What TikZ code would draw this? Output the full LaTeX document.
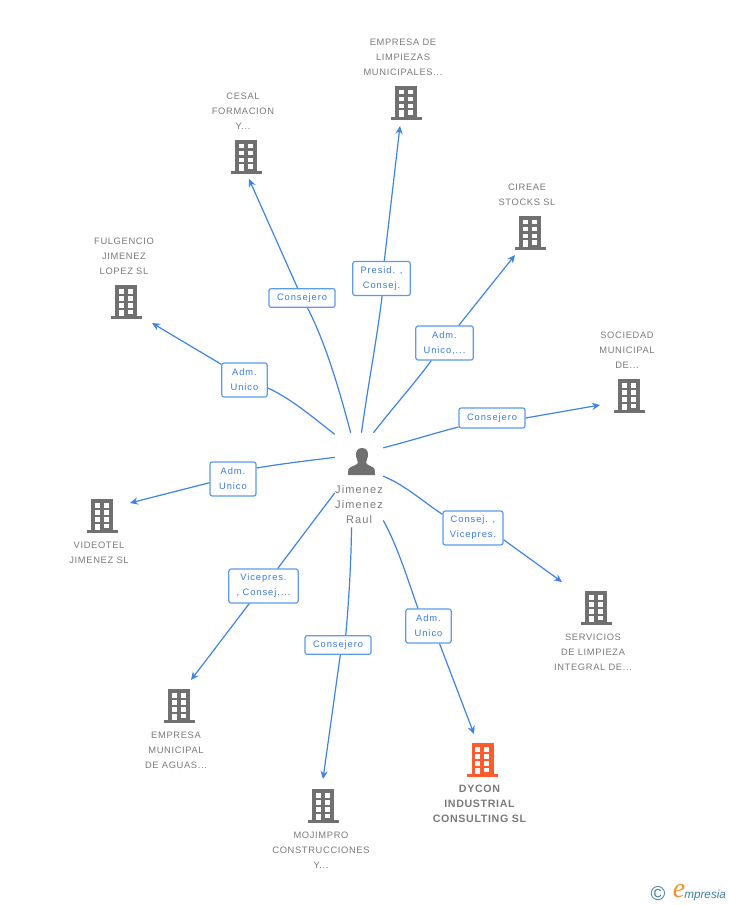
\documentclass[tikz,border=0pt]{standalone}
\usepackage{fontspec}
\setmainfont{Liberation Sans}
\newfontfamily\outerfont[LetterSpace=7]{Liberation Sans}
\newfontfamily\tagfont[LetterSpace=10]{Liberation Sans}
\newfontfamily\personfont[LetterSpace=10]{Liberation Sans}
\newfontfamily\boldfont[LetterSpace=6]{Liberation Sans Bold}
\newfontfamily\logofont{Liberation Serif Italic}
\newfontfamily\logosans{Liberation Sans Italic}
\usetikzlibrary{arrows.meta}
\definecolor{linkblue}{HTML}{3F84E2}
\definecolor{tagtext}{HTML}{3A7BD8}
\definecolor{tagedge}{HTML}{5C9BE8}
\definecolor{greytext}{HTML}{7A7A7A}
\definecolor{bldgrey}{HTML}{707070}
\definecolor{bldorange}{HTML}{FF5B2E}
\definecolor{logoteal}{HTML}{3E7F9C}
\definecolor{logoorange}{HTML}{F0922E}
\tikzset{
  x=0.75pt,y=-0.75pt,
  link/.style={draw=linkblue,line width=0.9pt},
  linkarrow/.style={link,-{Stealth[length=6pt,width=5.5pt]}},
  tag/.style={draw=tagedge,line width=0.9pt,rounded corners=1.6pt,fill=white,text=tagtext,
    font=\fontsize{7}{11.25}\tagfont,align=center,inner sep=0pt,
    execute at begin node={\vspace*{1.5pt}}},
  tagone/.style={tag,minimum width=49.5pt,minimum height=14pt},
  tagtwo/.style={tag,minimum width=#1,minimum height=25.5pt},
  caption/.style={text=greytext,font=\fontsize{7}{11.25}\outerfont,align=center,inner sep=0pt},
  bldnode/.style={minimum width=23pt,minimum height=25pt,inner sep=0pt},
  pics/building/.style={code={
    \fill[#1] (-11,-17) rectangle (11,16);
    \fill[#1] (-15.5,14) rectangle (15.5,17);
    \foreach \yy in {-13,-6,1}{
      \fill[white] (-7.5,\yy) rectangle (-2.5,\yy+4.5);
      \fill[white] (1.8,\yy) rectangle (6.8,\yy+4.5);
    }
    \fill[white] (-7.5,7.5) rectangle (-2.5,14);
    \fill[white] (1.8,7.5) rectangle (6.8,12);
  }}
}
\begin{document}
\begin{tikzpicture}
\useasboundingbox[fill=white] (0,0) rectangle (728,905);

% person
\node[minimum width=36pt,minimum height=70.5pt,inner sep=0pt] (person) at (359,480) {};
\fill[bldgrey] (362,448) .. controls (357.5,448) and (355.5,451.5) .. (356,456)
  .. controls (356.5,459.5) and (358,461) .. (358,463)
  .. controls (356,466) and (350,466) .. (348.5,469)
  .. controls (348,471) and (348,473) .. (348,475) -- (375,475)
  .. controls (375,473) and (375,471) .. (374.5,469)
  .. controls (373,466) and (368,466) .. (366,463)
  .. controls (366,461) and (367.5,459.5) .. (368,456)
  .. controls (368.5,451.5) and (366.5,448) .. (362,448) -- cycle;
\node[text=greytext,font=\fontsize{8.25}{11.25}\personfont,align=center,inner sep=0pt] (personname) at (359,504.7) {Jimenez\\Jimenez\\Raul};

% buildings
\foreach \nm/\xx/\yy in {b1/126/302,b2/246/157,b3/406/103,b4/530/233,b5/629/396,b6/596/608,b8/323/806,b9/179/706,b10/102/516}{
  \node[bldnode] (\nm) at (\xx,\yy) {};
  \pic at (\nm) {building=bldgrey};
}
\node[bldnode] (b7) at (482.5,760) {};
\pic at (b7) {building=bldorange};

% captions
\node[caption] (c1) at (124,256.7) {FULGENCIO\\JIMENEZ\\LOPEZ SL};
\node[caption] (c2) at (243,111.5) {CESAL\\FORMACION\\Y...};
\node[caption] (c3) at (403,57.5) {EMPRESA DE\\LIMPIEZAS\\MUNICIPALES...};
\node[caption] (c4) at (527,195) {CIREAE\\STOCKS SL};
\node[caption] (c5) at (627,350.5) {SOCIEDAD\\MUNICIPAL\\DE...};
\node[caption] (c6) at (593,652.5) {SERVICIOS\\DE LIMPIEZA\\INTEGRAL DE...};
\node[caption,font=\fontsize{8}{11.25}\boldfont] (c7) at (479.5,803.7) {DYCON\\INDUSTRIAL\\CONSULTING SL};
\node[caption] (c8) at (321,850.3) {MOJIMPRO\\CONSTRUCCIONES\\Y...};
\node[caption] (c9) at (176,750.3) {EMPRESA\\MUNICIPAL\\DE AGUAS...};
\node[caption] (c10) at (99,553) {VIDEOTEL\\JIMENEZ SL};

% tags
\node[tagtwo=34pt] (t1) at (244.5,380) {Adm.\\Unico};
\node[tagone] (t2) at (302,298) {Consejero};
\node[tagtwo=43pt] (t3) at (381.5,278.5) {Presid. ,\\Consej.};
\node[tagtwo=43pt] (t4) at (444.5,343) {Adm.\\Unico,...};
\node[tagone,minimum height=15pt] (t5) at (492,418) {Consejero};
\node[tagtwo=45pt] (t6) at (473,528) {Consej. ,\\Vicepres.};
\node[tagtwo=34pt] (t7) at (428.5,626) {Adm.\\Unico};
\node[tagone] (t8) at (338,645) {Consejero};
\node[tagtwo=52pt] (t9) at (263.5,586) {Vicepres.\\, Consej....};
\node[tagtwo=34.5pt] (t10) at (233,479) {Adm.\\Unico};

% arrow ends
\coordinate (a1) at (152,323);
\coordinate (a2) at (249,179);
\coordinate (a3) at (400,126);
\coordinate (a4) at (515,255);
\coordinate (a5) at (600,405);
\coordinate (a6) at (562,582);
\coordinate (a7) at (474,734);
\coordinate (a8) at (323,779);
\coordinate (a9) at (191,680);
\coordinate (a10) at (130,503);

% connectors
\draw[link] (person.118.6) .. controls (310,415) and (290,398) .. (t1.-19.6);
\draw[linkarrow] (t1.146.3) -- (a1);
\draw[link] (person.100.8) .. controls (338,385) and (325,342) .. (t2.-61);
\draw[linkarrow] (t2.114) -- (a2);
\draw[link] (person.87.6) .. controls (368,385) and (376,345) .. (t3.-88.4);
\draw[linkarrow] (t3.81.9) -- (a3);
\draw[link] (person.73.4) .. controls (395,405) and (415,383) .. (t4.233.7);
\draw[linkarrow] (t4.51.5) -- (a4);
\draw[link] (person.53.1) .. controls (410,441) and (435,433) .. (t5.195.3);
\draw[linkarrow] (t5.0) -- (a5);
\draw[link] (person.9.5) .. controls (405,485) and (425,503) .. (t6.156.6);
\draw[linkarrow] (t6.-21.8) -- (a6);
\draw[link] (person.-59.7) .. controls (397,545) and (408,580) .. (t7.121.7);
\draw[linkarrow] (t7.-58.3) -- (a7);
\draw[link] (person.-99.7) .. controls (351,570) and (348,610) .. (t8.52);
\draw[linkarrow] (t8.-77.5) -- (a8);
\draw[link] (person.208.4) -- (t9.51.5);
\draw[linkarrow] (t9.231.5) -- (a9);
\draw[link] (person.137.5) .. controls (305,461) and (280,464) .. (t10.25.6);
\draw[linkarrow] (t10.189.9) -- (a10);

% logo
\node[text=logoteal,font=\fontsize{15}{15}\selectfont,inner sep=0pt] (copy) at (658,894) {©};
\node[text=logoorange,font=\fontsize{21}{21}\logofont,inner sep=0pt] (logoe) at (679,891) {e};
\node[text=logoteal,font=\fontsize{8.8}{10}\logosans,inner sep=0pt,anchor=west] (logotext) at (684,895) {mpresia};
\end{tikzpicture}
\end{document}
